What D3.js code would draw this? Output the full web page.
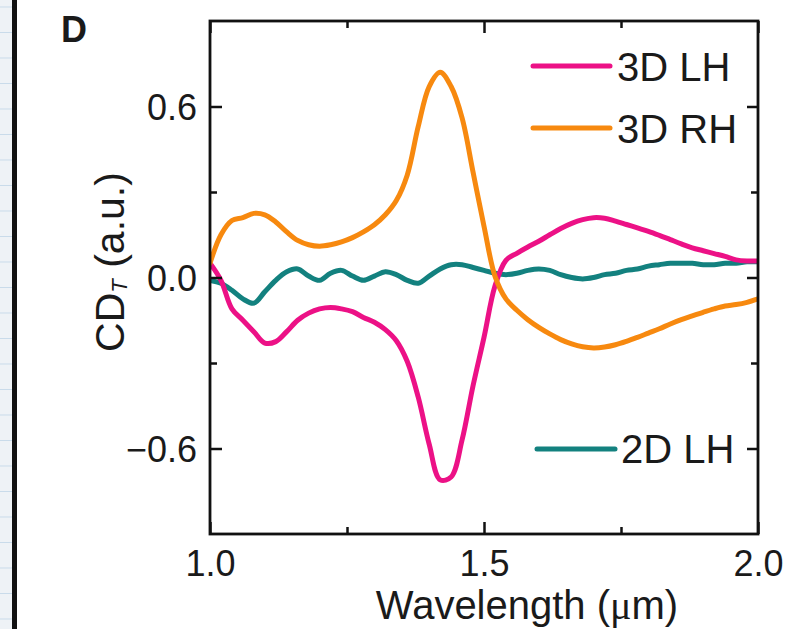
<!DOCTYPE html>
<html>
<head>
<meta charset="utf-8">
<script src="https://cdn.jsdelivr.net/npm/d3@7"></script>
<style>
html,body{margin:0;padding:0;background:#fff;}
svg{display:block;}
text{font-family:"Liberation Sans",Arial,Helvetica,sans-serif;fill:#1a1a1a;}
</style>
</head>
<body>
<svg id="chart" width="785" height="629"></svg>
<script>
// ---- data ----
const wavelength = [1.00,1.02,1.04,1.06,1.08,1.10,1.12,1.14,1.16,1.18,1.20,1.22,1.24,1.26,1.28,1.30,1.32,1.34,1.36,1.38,1.40,1.42,1.44,1.46,1.48,1.50,1.52,1.54,1.56,1.58,1.60,1.62,1.64,1.66,1.68,1.70,1.72,1.74,1.76,1.78,1.80,1.82,1.84,1.86,1.88,1.90,1.92,1.94,1.96,1.98,2.00];
const lh3D = [0.05,-0.01,-0.11,-0.15,-0.19,-0.23,-0.225,-0.19,-0.15,-0.125,-0.11,-0.105,-0.11,-0.12,-0.14,-0.157,-0.183,-0.222,-0.295,-0.42,-0.585,-0.71,-0.70,-0.57,-0.38,-0.21,-0.03,0.06,0.085,0.107,0.127,0.15,0.172,0.19,0.203,0.21,0.208,0.198,0.186,0.174,0.162,0.148,0.133,0.118,0.104,0.094,0.084,0.074,0.062,0.058,0.058];
const rh3D = [0.05,0.15,0.20,0.21,0.225,0.22,0.195,0.16,0.13,0.115,0.11,0.115,0.125,0.14,0.16,0.185,0.22,0.27,0.36,0.53,0.67,0.72,0.67,0.56,0.37,0.18,0.005,-0.075,-0.115,-0.148,-0.175,-0.198,-0.218,-0.233,-0.243,-0.247,-0.244,-0.236,-0.224,-0.21,-0.195,-0.18,-0.163,-0.148,-0.135,-0.122,-0.11,-0.10,-0.095,-0.087,-0.075];
const lh2D = [-0.01,-0.02,-0.045,-0.075,-0.09,-0.05,-0.01,0.02,0.03,0.005,-0.01,0.015,0.025,0.005,-0.01,0.005,0.02,0.01,-0.01,-0.02,0.005,0.03,0.045,0.045,0.035,0.025,0.015,0.01,0.015,0.025,0.03,0.025,0.01,0.0,-0.005,0.0,0.01,0.015,0.025,0.03,0.04,0.045,0.05,0.05,0.05,0.045,0.045,0.05,0.05,0.055,0.055];
const seriesNames = ["3D LH","3D RH","2D LH"];
const seriesColors = ["#ec1186","#f7890f","#13817f"];
const xTicksMajor = [1.0,1.5,2.0];
const xTicksMinor = [1.25,1.75];
const yTicksMajor = [-0.6,0.0,0.6];
const yTicksMinor = [-0.3,0.3];

// ---- layout ----
const L = 210, R = 758, T = 21, B = 534;
const svg = d3.select("#chart");

// left notebook strip
const strip = svg.append("g");
strip.append("rect").attr("x",0).attr("y",0).attr("width",13).attr("height",629).attr("fill","#eef2f6");
strip.selectAll("line.nb").data(d3.range(7, 629, 25.5)).join("line")
  .attr("x1",0).attr("x2",13).attr("y1",d=>d).attr("y2",d=>d)
  .attr("stroke","#c9dbea").attr("stroke-width",1);
strip.append("rect").attr("x",12).attr("y",0).attr("width",5).attr("height",629).attr("fill","#111");

const x = d3.scaleLinear().domain([1.0,2.0]).range([L,R]);
const y = d3.scaleLinear().domain([-0.9,0.9]).range([B,T]);

svg.append("defs").append("clipPath").attr("id","clip")
  .append("rect").attr("x",L).attr("y",T).attr("width",R-L).attr("height",B-T);

// curves
const series = [lh3D, rh3D, lh2D];
const line = d3.line().x(d=>x(d[0])).y(d=>y(d[1])).curve(d3.curveCatmullRom.alpha(0.5));
const order = [2,0,1];
const gLines = svg.append("g").attr("clip-path","url(#clip)");
order.forEach(i=>{
  const pts = wavelength.map((w,k)=>[w, series[i][k]]);
  gLines.append("path").attr("d", line(pts)).attr("fill","none")
    .attr("stroke", seriesColors[i]).attr("stroke-width",5)
    .attr("stroke-linejoin","round").attr("stroke-linecap","round");
});

// axes (inward ticks on all four sides)
function styleAxis(g){
  g.select(".domain").remove();
  g.selectAll(".tick line").attr("stroke","#111").attr("stroke-width",2.5);
}
const axB = svg.append("g").attr("transform",`translate(0,${B})`)
  .call(d3.axisBottom(x).tickValues(xTicksMajor).tickSize(-12).tickFormat(d3.format(".1f")));
styleAxis(axB);
axB.selectAll(".tick text").attr("y",42).attr("dy",0).attr("font-size",36).style("font-family",'"Liberation Sans",Arial,sans-serif').attr("fill","#1a1a1a");
styleAxis(svg.append("g").attr("transform",`translate(0,${B})`)
  .call(d3.axisBottom(x).tickValues(xTicksMinor).tickSize(-7).tickFormat("")));
styleAxis(svg.append("g").attr("transform",`translate(0,${T})`)
  .call(d3.axisTop(x).tickValues(xTicksMajor).tickSize(-12).tickFormat("")));
styleAxis(svg.append("g").attr("transform",`translate(0,${T})`)
  .call(d3.axisTop(x).tickValues(xTicksMinor).tickSize(-7).tickFormat("")));

const fmtY = d => (d < 0 ? "\u2212" : "") + Math.abs(d).toFixed(1);
const axL = svg.append("g").attr("transform",`translate(${L},0)`)
  .call(d3.axisLeft(y).tickValues(yTicksMajor).tickSize(-12).tickFormat(fmtY));
styleAxis(axL);
axL.selectAll(".tick text").attr("x",-13).attr("dy","0.36em").attr("font-size",36).style("font-family",'"Liberation Sans",Arial,sans-serif').attr("fill","#1a1a1a");
styleAxis(svg.append("g").attr("transform",`translate(${L},0)`)
  .call(d3.axisLeft(y).tickValues(yTicksMinor).tickSize(-7).tickFormat("")));
styleAxis(svg.append("g").attr("transform",`translate(${R},0)`)
  .call(d3.axisRight(y).tickValues(yTicksMajor).tickSize(-11).tickFormat("")));
styleAxis(svg.append("g").attr("transform",`translate(${R},0)`)
  .call(d3.axisRight(y).tickValues(yTicksMinor).tickSize(-7).tickFormat("")));

// frame
svg.append("rect").attr("x",L).attr("y",T).attr("width",R-L).attr("height",B-T)
  .attr("fill","none").attr("stroke","#111").attr("stroke-width",2.8);

// legend
const legendPos = [{ly:66, ty:81, x1:533, x2:610, tx:617},
                   {ly:128, ty:143, x1:533, x2:610, tx:617},
                   {ly:449, ty:463, x1:537, x2:615, tx:621}];
seriesNames.forEach((n,i)=>{
  const p = legendPos[i];
  svg.append("line").attr("x1",p.x1).attr("x2",p.x2).attr("y1",p.ly).attr("y2",p.ly)
    .attr("stroke",seriesColors[i]).attr("stroke-width",5).attr("stroke-linecap","round");
  svg.append("text").attr("x",p.tx).attr("y",p.ty).attr("font-size",40).text(n);
});

// axis titles
const xt = svg.append("text").attr("x",527).attr("y",619).attr("text-anchor","middle").attr("font-size",40);
xt.append("tspan").text("Wavelength (");
xt.append("tspan").style("font-family",'"Liberation Serif","Times New Roman",serif').text("\u03bc");
xt.append("tspan").text("m)");

const yt = svg.append("text").attr("transform","translate(124,262) rotate(-90)")
  .attr("text-anchor","middle").attr("font-size",41);
yt.append("tspan").text("CD");
yt.append("tspan").attr("font-size",22).attr("font-style","italic").attr("dy",3).text("T");
yt.append("tspan").attr("dy",-3).text(" (a.u.)");

// panel label
svg.append("text").attr("x",61).attr("y",42).attr("font-size",36).attr("font-weight","bold").text("D");
</script>
</body>
</html>
